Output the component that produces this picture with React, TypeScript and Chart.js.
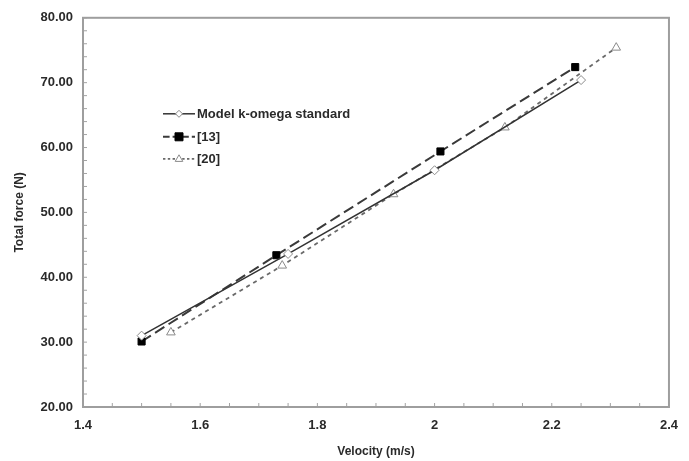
import React, { useEffect, useRef } from "react";
import { Chart, registerables } from "chart.js";

Chart.register(...registerables);

const modelX = [1.5, 1.75, 2.0, 2.25];
const modelY = [31.0, 43.6, 56.5, 70.4];
const ref13X = [1.5, 1.73, 2.01, 2.24];
const ref13Y = [30.1, 43.4, 59.4, 72.4];
const ref20X = [1.55, 1.74, 1.93, 2.12, 2.31];
const ref20Y = [31.5, 41.8, 52.8, 63.1, 75.4];

const legendLabels = ["Model k-omega standard", "[13]", "[20]"];
const xTitle = "Velocity (m/s)";
const yTitle = "Total force (N)";

const FONT = "'Liberation Sans', Arial, sans-serif";
const TEXT = "#2a2a2a";

function toPts(xs: number[], ys: number[]) {
  return xs.map((x, i) => ({ x, y: ys[i] }));
}

function drawMarker(ctx: CanvasRenderingContext2D, style: string, x: number, y: number, r: number, fill: string, stroke: string) {
  ctx.save();
  ctx.beginPath();
  if (style === "rectRot") {
    ctx.moveTo(x, y - r);
    ctx.lineTo(x + r, y);
    ctx.lineTo(x, y + r);
    ctx.lineTo(x - r, y);
    ctx.closePath();
  } else if (style === "rect") {
    ctx.rect(x - r, y - r, 2 * r, 2 * r);
  } else {
    ctx.moveTo(x, y - r);
    ctx.lineTo(x + r * 0.95, y + r * 0.65);
    ctx.lineTo(x - r * 0.95, y + r * 0.65);
    ctx.closePath();
  }
  ctx.fillStyle = fill;
  ctx.fill();
  ctx.lineWidth = 1;
  ctx.strokeStyle = stroke;
  ctx.stroke();
  ctx.restore();
}

const framePlugin = {
  id: "framePlugin",
  beforeDatasetsDraw(chart: any) {
    const { ctx, chartArea, scales } = chart;
    const { left, right, top, bottom } = chartArea;
    ctx.save();
    ctx.strokeStyle = "#a3a3a3";
    ctx.lineWidth = 1;
    scales.x.ticks.forEach((t: any) => {
      const px = scales.x.getPixelForValue(t.value);
      ctx.beginPath();
      ctx.moveTo(px, bottom);
      ctx.lineTo(px, bottom - 4);
      ctx.stroke();
    });
    scales.y.ticks.forEach((t: any) => {
      const py = scales.y.getPixelForValue(t.value);
      ctx.beginPath();
      ctx.moveTo(left, py);
      ctx.lineTo(left + 4, py);
      ctx.stroke();
    });
    ctx.lineWidth = 2;
    ctx.strokeStyle = "#9e9e9e";
    ctx.strokeRect(left, top, right - left, bottom - top);
    ctx.restore();
  },
  afterDatasetsDraw(chart: any) {
    const { ctx, chartArea } = chart;
    const x0 = chartArea.left + 80;
    const rows = [chartArea.top + 96, chartArea.top + 119, chartArea.top + 141];
    const legendR = [3.5, 4, 4];
    chart.data.datasets.forEach((ds: any, i: number) => {
      const y = rows[i];
      ctx.save();
      ctx.strokeStyle = ds.borderColor;
      ctx.lineWidth = ds.borderWidth;
      ctx.setLineDash(ds.borderDash ? ds.borderDash.map((d: number) => d * 0.6) : []);
      ctx.beginPath();
      ctx.moveTo(x0, y);
      ctx.lineTo(x0 + 32, y);
      ctx.stroke();
      ctx.setLineDash([]);
      drawMarker(ctx, ds.pointStyle, x0 + 16, y, legendR[i], ds.pointBackgroundColor, ds.pointBorderColor);
      ctx.fillStyle = TEXT;
      ctx.font = `bold 13px ${FONT}`;
      ctx.textBaseline = "middle";
      ctx.textAlign = "left";
      ctx.fillText(legendLabels[i], x0 + 34, y + 1);
      ctx.restore();
    });
  },
};

export default function App() {
  const ref = useRef<HTMLCanvasElement | null>(null);
  useEffect(() => {
    document.body.style.margin = "0";
    const canvas = ref.current!;
    const chart = new Chart(canvas, {
      type: "scatter",
      data: {
        datasets: [
          {
            label: legendLabels[0],
            data: toPts(modelX, modelY),
            showLine: true,
            borderColor: "#333333",
            borderWidth: 1.5,
            pointStyle: "rectRot",
            pointRadius: 4.5,
            pointBackgroundColor: "#ffffff",
            pointBorderColor: "#8a8a8a",
            pointBorderWidth: 1,
          },
          {
            label: legendLabels[1],
            data: toPts(ref13X, ref13Y),
            showLine: true,
            borderColor: "#3a3a3a",
            borderWidth: 2,
            borderDash: [11, 5],
            pointStyle: "rect",
            pointRadius: 5,
            pointBackgroundColor: "#000000",
            pointBorderColor: "#000000",
            pointBorderWidth: 1,
          },
          {
            label: legendLabels[2],
            data: toPts(ref20X, ref20Y),
            showLine: true,
            borderColor: "#6a6a6a",
            borderWidth: 1.8,
            borderDash: [4, 4],
            pointStyle: "triangle",
            pointRadius: 5,
            pointBackgroundColor: "#ffffff",
            pointBorderColor: "#8a8a8a",
            pointBorderWidth: 1,
          },
        ] as any,
      },
      options: {
        animation: false,
        responsive: false,
        layout: { padding: { top: 15, right: 9, left: 0, bottom: 0 } },
        plugins: { legend: { display: false }, tooltip: { enabled: false } },
        scales: {
          x: {
            type: "linear",
            min: 1.4,
            max: 2.4,
            grid: { display: false, drawTicks: false },
            border: { display: false },
            ticks: {
              stepSize: 0.05,
              autoSkip: false,
              maxRotation: 0,
              padding: 11,
              color: TEXT,
              font: { family: FONT, size: 13, weight: "bold" },
              callback: (v: any) => {
                const n = Number(v);
                return Math.abs(n * 5 - Math.round(n * 5)) < 1e-6 ? String(Math.round(n * 10) / 10) : "";
              },
            },
            title: {
              display: true,
              text: xTitle,
              color: TEXT,
              font: { family: FONT, size: 12, weight: "bold" },
              padding: { top: 4, bottom: 2 },
            },
            afterFit: (s: any) => {
              s.height = 54;
            },
          },
          y: {
            type: "linear",
            min: 20,
            max: 80,
            grid: { display: false, drawTicks: false },
            border: { display: false },
            ticks: {
              stepSize: 2,
              autoSkip: false,
              padding: 10,
              color: TEXT,
              font: { family: FONT, size: 13, weight: "bold" },
              callback: (v: any) => {
                const n = Number(v);
                return Math.abs(n % 10) < 1e-6 ? n.toFixed(2) : "";
              },
            },
            title: {
              display: true,
              text: yTitle,
              color: TEXT,
              font: { family: FONT, size: 12, weight: "bold" },
              padding: { top: 12, bottom: 0 },
            },
            afterFit: (s: any) => {
              s.width = 83;
            },
          },
        },
      } as any,
      plugins: [framePlugin],
    });
    return () => chart.destroy();
  }, []);
  return <canvas ref={ref} width={689} height={461} style={{ display: "block" }} />;
}
